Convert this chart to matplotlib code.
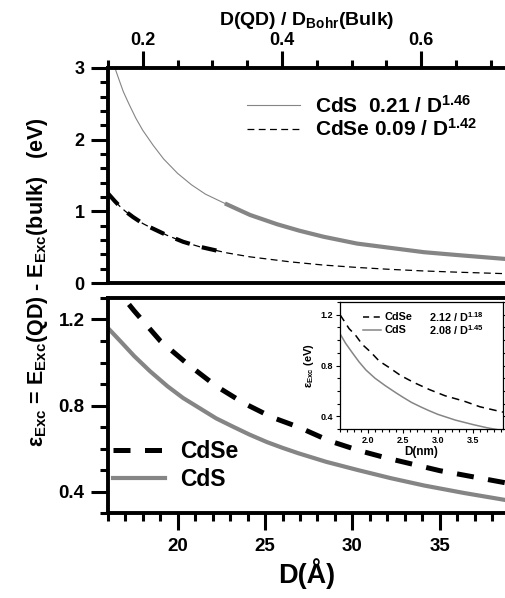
import numpy as np
import matplotlib
matplotlib.use("Agg")
import matplotlib.pyplot as plt
from matplotlib.ticker import MultipleLocator

plt.rcParams["font.family"] = ["Liberation Sans", "DejaVu Sans"]
plt.rcParams["font.weight"] = "bold"
plt.rcParams["axes.labelweight"] = "bold"
plt.rcParams["mathtext.fontset"] = "custom"
plt.rcParams["mathtext.rm"] = "Liberation Sans:bold"
plt.rcParams["mathtext.it"] = "Liberation Sans:bold"
plt.rcParams["mathtext.bf"] = "Liberation Sans:bold"

# top panel: fits vs D(QD)/D_Bohr
top_cds_x = [0.160, 0.165, 0.172, 0.180, 0.190, 0.200, 0.215, 0.230, 0.250, 0.270,
             0.290, 0.318, 0.354, 0.393, 0.425, 0.460, 0.508, 0.556, 0.604, 0.652, 0.722]
top_cds_y = [3.00, 2.86, 2.67, 2.50, 2.30, 2.13, 1.92, 1.73, 1.53, 1.37,
             1.24, 1.11, 0.95, 0.82, 0.73, 0.645, 0.55, 0.49, 0.43, 0.39, 0.335]
top_cdse_x = [0.150, 0.160, 0.167, 0.175, 0.186, 0.200, 0.210, 0.235, 0.258, 0.282,
              0.321, 0.354, 0.412, 0.460, 0.508, 0.556, 0.604, 0.652, 0.722]
top_cdse_y = [1.25, 1.14, 1.07, 1.00, 0.92, 0.83, 0.78, 0.665, 0.575, 0.505,
              0.42, 0.365, 0.295, 0.25, 0.217, 0.19, 0.168, 0.151, 0.13]
top_labels = ["CdS  0.21 / D$^{1.46}$", "CdSe 0.09 / D$^{1.42}$"]

# bottom panel: exciton energy vs D (Angstrom)
cdse_d = [17.2, 17.5, 19.0, 20.6, 22.2, 23.8, 25.4, 26.9, 28.7, 30.4, 32.0, 35.0, 38.8]
cdse_e = [1.27, 1.24, 1.10, 0.99, 0.89, 0.81, 0.745, 0.70, 0.635, 0.59, 0.555, 0.497, 0.44]
cds_d = [16.0, 16.7, 17.5, 18.4, 19.4, 20.3, 21.3, 22.2, 23.2, 24.1, 25.1, 26.0,
         26.9, 28.5, 30.3, 32.2, 34.1, 36.4, 38.8]
cds_e = [1.16, 1.10, 1.03, 0.96, 0.89, 0.835, 0.785, 0.74, 0.70, 0.665, 0.63, 0.603,
         0.578, 0.538, 0.50, 0.462, 0.428, 0.393, 0.36]

# inset: vs D (nm)
in_cdse_d = [1.60, 1.66, 1.73, 1.82, 1.92, 2.04, 2.16, 2.30, 2.47, 2.66, 2.88,
             3.10, 3.37, 3.60, 3.85, 3.93]
in_cdse_e = [1.20, 1.15, 1.09, 1.04, 0.965, 0.905, 0.835, 0.785, 0.72, 0.665, 0.61,
             0.562, 0.52, 0.475, 0.443, 0.433]
in_cds_d = [1.60, 1.68, 1.77, 1.87, 1.97, 2.10, 2.25, 2.40, 2.50, 2.62, 2.75, 2.87,
            3.00, 3.25, 3.50, 3.70, 3.85]
in_cds_e = [1.05, 0.975, 0.905, 0.83, 0.765, 0.70, 0.64, 0.585, 0.55, 0.51, 0.475,
            0.445, 0.415, 0.37, 0.335, 0.31, 0.295]
in_names = ["CdSe", "CdS"]
in_fits = ["2.12 / D$^{1.18}$", "2.08 / D$^{1.45}$"]

gray = "#858585"

fig = plt.figure(figsize=(5.06, 5.98), dpi=100)
W, H = 506, 598
ax1 = fig.add_axes([108 / W, 1 - 283 / H, 1 - 108 / W, 215 / H])
ax2 = fig.add_axes([108 / W, 1 - 513 / H, 1 - 108 / W, 215 / H])
axi = fig.add_axes([340 / W, 1 - 429 / H, 163 / W, 127 / H])

# ---- top panel
tx1, ty1 = np.array(top_cds_x), np.array(top_cds_y)
tx2, ty2 = np.array(top_cdse_x), np.array(top_cdse_y)
ax1.plot(tx1, ty1, color=gray, lw=0.8, label=top_labels[0])
ax1.plot(tx2, ty2, color="black", lw=0.9, dashes=(5.5, 3.5), label=top_labels[1])
m = tx1 >= 0.318
ax1.plot(tx1[m], ty1[m], color=gray, lw=3.0, solid_capstyle="butt")
m = tx2 <= 0.33
ax1.plot(tx2[m], ty2[m], color="black", lw=3.0, dashes=(3.6, 3.0))
ax1.set_xlim(0.15, 0.722)
ax1.set_ylim(0, 3)
ax1.xaxis.tick_top()
ax1.xaxis.set_label_position("top")
ax1.xaxis.set_major_locator(MultipleLocator(0.2))
ax1.xaxis.set_minor_locator(MultipleLocator(0.05))
ax1.yaxis.set_major_locator(MultipleLocator(1))
ax1.yaxis.set_minor_locator(MultipleLocator(0.2))
ax1.set_xlabel("D(QD) / D$_{\\mathrm{Bohr}}$(Bulk)", fontsize=14, labelpad=5)
ax1.tick_params(axis="x", labelsize=13, pad=2)
ax1.tick_params(axis="y", labelsize=13, pad=5)
ax1.legend(loc="center left", bbox_to_anchor=(0.348, 0.77), frameon=False,
           fontsize=15, handlelength=2.55, handletextpad=0.72, borderpad=0,
           borderaxespad=0, labelspacing=0.08)

# ---- bottom panel
ax2.plot(cdse_d, cdse_e, color="black", lw=3.6, dashes=(3.4, 2.9), label="CdSe")
ax2.plot(cds_d, cds_e, color=gray, lw=3.0, label="CdS")
ax2.set_xlim(16, 38.8)
ax2.set_ylim(0.3, 1.3)
ax2.xaxis.set_major_locator(MultipleLocator(5))
ax2.xaxis.set_minor_locator(MultipleLocator(1))
ax2.yaxis.set_major_locator(MultipleLocator(0.4))
ax2.yaxis.set_minor_locator(MultipleLocator(0.1))
ax2.set_xlabel("D(Å)", fontsize=19.5, labelpad=2)
ax2.tick_params(axis="x", labelsize=13.5, pad=6)
ax2.tick_params(axis="y", labelsize=13.5, pad=5)
ax2.legend(loc="lower left", bbox_to_anchor=(0.012, 0.1), frameon=False,
           fontsize=16.5, handlelength=2.3, handletextpad=0.65, borderpad=0,
           borderaxespad=0, labelspacing=0.25)

for ax in (ax1, ax2):
    for s in ("left", "top", "bottom"):
        ax.spines[s].set_linewidth(2.8)
    ax.spines["right"].set_visible(False)
    ax.tick_params(which="major", direction="out", length=12, width=2.2)
    ax.tick_params(which="minor", direction="out", length=6, width=2.2)
    ax.tick_params(right=False)
ax1.tick_params(which="both", bottom=False)
ax2.tick_params(which="both", top=False)

# ---- inset
axi.plot(in_cdse_d, in_cdse_e, color="black", lw=1.1, dashes=(5, 3.5))
axi.plot(in_cds_d, in_cds_e, color=gray, lw=1.1)
axi.set_xlim(1.6, 3.93)
axi.set_ylim(0.3, 1.3)
axi.xaxis.set_major_locator(MultipleLocator(0.5))
axi.xaxis.set_minor_locator(MultipleLocator(0.1))
axi.yaxis.set_major_locator(MultipleLocator(0.4))
axi.yaxis.set_minor_locator(MultipleLocator(0.1))
axi.tick_params(which="both", direction="out", labelsize=6.5, pad=2, width=0.8,
                right=True)
axi.tick_params(which="major", length=3)
axi.tick_params(which="minor", length=2)
for s in axi.spines.values():
    s.set_linewidth(0.9)
axi.set_xlabel("D(nm)", fontsize=8.5, labelpad=1)
axi.set_ylabel("ε$_{\\mathrm{Exc}}$ (eV)", fontsize=8, labelpad=3)
for i, (nm, ft) in enumerate(zip(in_names, in_fits)):
    yy = 0.885 - i * 0.108
    axi.plot([0.14, 0.25], [yy, yy], transform=axi.transAxes,
             color="black" if i == 0 else gray, lw=1.1,
             dashes=(4, 3) if i == 0 else (None, None))
    axi.text(0.275, yy, nm, transform=axi.transAxes, fontsize=7.8, va="center")
    axi.text(0.545, yy, ft, transform=axi.transAxes, fontsize=7.8, va="center")

fig.text(0.074, 1 - 447 / H,
         "ε$_{\\mathrm{Exc}}$ = E$_{\\mathrm{Exc}}$(QD) - E$_{\\mathrm{Exc}}$(bulk)   (eV)",
         rotation=90, ha="center", va="bottom", fontsize=15.5)

fig.savefig("out.png", dpi=100)
